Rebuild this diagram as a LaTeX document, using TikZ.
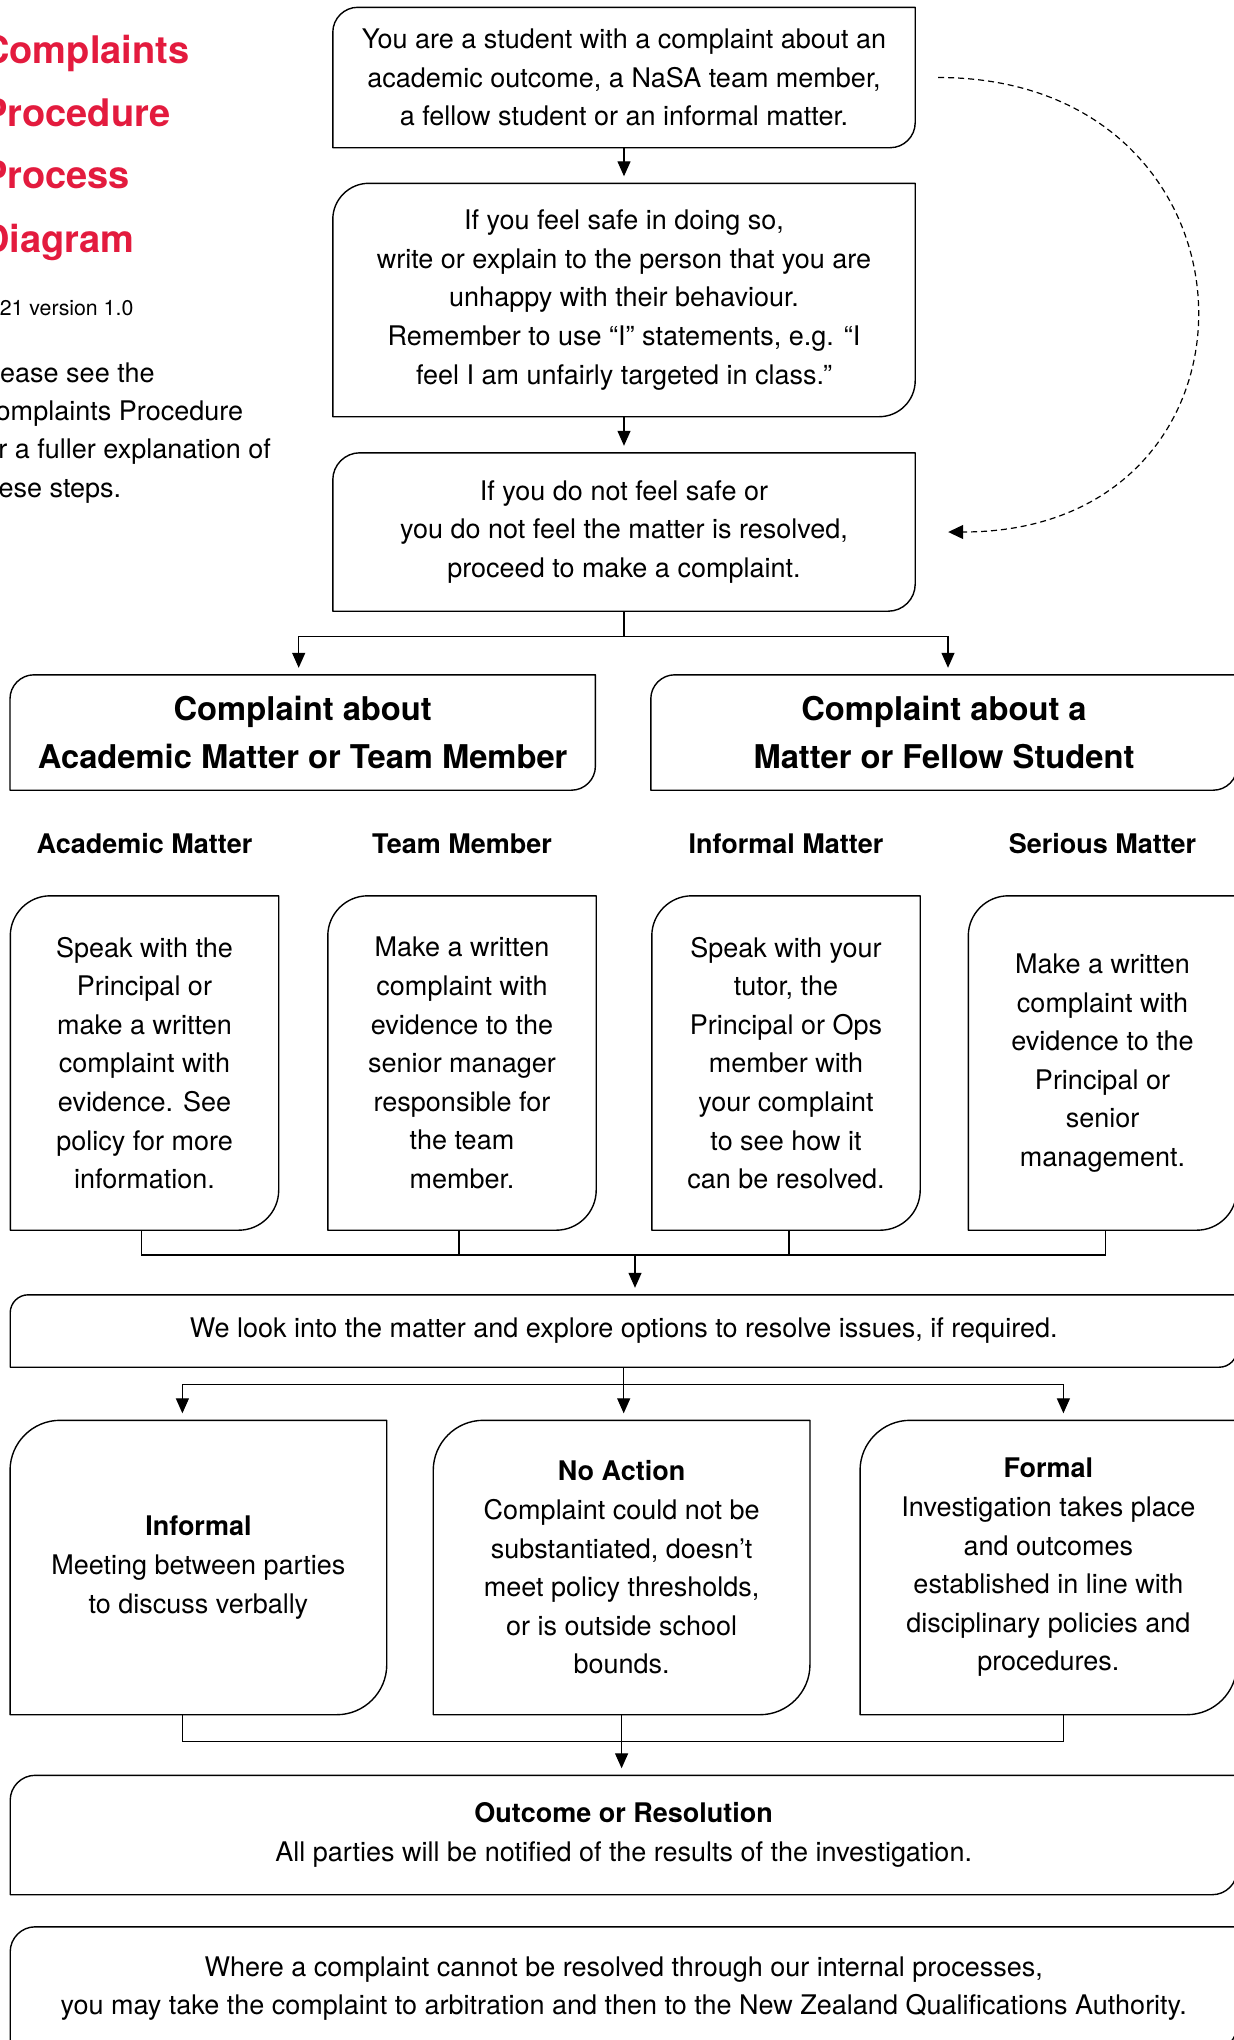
\documentclass[tikz,border=0pt]{standalone}
\usepackage{fontspec}
\setmainfont{TeX Gyre Heros}
\usetikzlibrary{arrows.meta,calc}
\definecolor{titlered}{RGB}{227,27,62}
\newcommand\DBox[2]{%
  \draw[boxline] (#1.south west) -- ([yshift=-#2]#1.north west)
    .. controls ([yshift=-0.45*#2]#1.north west) and ([xshift=0.45*#2]#1.north west) .. ([xshift=#2]#1.north west)
    -- (#1.north east) -- ([yshift=#2]#1.south east)
    .. controls ([yshift=0.45*#2]#1.south east) and ([xshift=-0.45*#2]#1.south east) .. ([xshift=-#2]#1.south east)
    -- cycle;}
\tikzset{
  boxtext/.style={inner sep=0pt, align=center, font=\fontsize{27}{38.6}\selectfont},
  headtext/.style={inner sep=0pt, align=center, font=\fontsize{32.7}{48.6}\selectfont\bfseries},
  subhead/.style={inner sep=0pt, font=\fontsize{27}{32}\selectfont\bfseries},
  titletxt/.style={inner sep=0pt, anchor=base west, text=titlered, font=\fontsize{38}{45}\selectfont\bfseries},
  vertxt/.style={inner sep=0pt, anchor=base west, font=\fontsize{21.3}{26}\selectfont},
  notetxt/.style={inner sep=0pt, anchor=base west, font=\fontsize{27}{32}\selectfont},
  boxline/.style={line width=1.4pt, draw=black, line join=round},
  conn/.style={line width=1.3pt, draw=black},
  arr/.style={conn, -{Triangle[length=15pt,width=13pt]}, shorten >=7pt},
  dasharr/.style={line width=1.2pt, dash pattern=on 6pt off 4pt, -{Triangle[length=15pt,width=14pt]}},
}
\begin{document}
\begin{tikzpicture}[x=1pt,y=-1pt]
\useasboundingbox (0,0) rectangle (1234,2040);

% left title and notes
\node[titletxt] (t1) at (-18,63) {Complaints};
\node[titletxt] (t2) at (-18,126) {Procedure};
\node[titletxt] (t3) at (-18,188) {Process};
\node[titletxt] (t4) at (-18,252) {Diagram};
\node[vertxt] (ver) at (-24,315) {2021 version 1.0};
\node[notetxt] (n1) at (-24,382) {Please see the};
\node[notetxt] (n2) at (-24,420) {Complaints Procedure};
\node[notetxt] (n3) at (-24,458) {for a fuller explanation of};
\node[notetxt] (n4) at (-24,497) {these steps.};

% top column
\node[boxtext, minimum width=582pt, minimum height=140pt] (b1) at (624,77.5)
  {You are a student with a complaint about an\\academic outcome, a NaSA team member,\\a fellow student or an informal matter.};
\node[boxtext, minimum width=582pt, minimum height=233pt] (b2) at (624,300)
  {If you feel safe in doing so,\\write or explain to the person that you are\\unhappy with their behaviour.\\Remember to use “I” statements, e.g. “I\\feel I am unfairly targeted in class.”};
\node[boxtext, minimum width=582pt, minimum height=158pt] (b3) at (624,532)
  {If you do not feel safe or\\you do not feel the matter is resolved,\\proceed to make a complaint.};
\DBox{b1}{25pt}
\DBox{b2}{36pt}
\DBox{b3}{27pt}
\draw[arr] (b1) -- (b2);
\draw[arr] (b2) -- (b3);

% dashed bypass
\coordinate (ds) at ([xshift=23pt]b1.east);
\coordinate (de) at ([xshift=33pt]b3.east);
\draw[dasharr] (ds) .. controls +(338,0) and +(338,0) .. (de);

% two categories
\node[headtext, minimum width=585pt, minimum height=115pt] (bA) at (302.7,732.5)
  {Complaint about\\Academic Matter or Team Member};
\node[headtext, minimum width=586pt, minimum height=115pt] (bB) at (944,732.5)
  {Complaint about a\\Matter or Fellow Student};
\DBox{bA}{24pt}
\DBox{bB}{24pt}
\coordinate (j1) at (624,636.5);
\draw[conn] (b3.south) -- (j1);
\draw[arr] (j1) -| ([xshift=-4pt]bA.north);
\draw[arr] (j1) -| ([xshift=4pt]bB.north);

% sub headings
\node[subhead] (hA) at (144.5,843.5) {Academic Matter};
\node[subhead] (hB) at (462,843.5) {Team Member};
\node[subhead] (hC) at (786,843.5) {Informal Matter};
\node[subhead] (hD) at (1102.5,843.5) {Serious Matter};

% four option boxes
\node[boxtext, minimum width=268pt, minimum height=334pt] (c1) at (144.5,1063)
  {Speak with the\\Principal or\\make a written\\complaint with\\evidence. See\\policy for more\\information.};
\node[boxtext, minimum width=268pt, minimum height=334pt] (c2) at (462,1063)
  {Make a written\\complaint with\\evidence to the\\senior manager\\responsible for\\the team\\member.};
\node[boxtext, minimum width=268pt, minimum height=334pt] (c3) at (786,1063)
  {Speak with your\\tutor, the\\Principal or Ops\\member with\\your complaint\\to see how it\\can be resolved.};
\node[boxtext, minimum width=268pt, minimum height=334pt] (c4) at (1102.5,1063)
  {Make a written\\complaint with\\evidence to the\\Principal or\\senior\\management.};
\DBox{c1}{40pt}
\DBox{c2}{40pt}
\DBox{c3}{40pt}
\DBox{c4}{40pt}
\coordinate (j2) at (635,1255);
\draw[conn] ([xshift=-3pt]c1.south) |- ([xshift=3pt]c4.south |- j2) -- ([xshift=3pt]c4.south);
\draw[conn] ([xshift=-3pt]c2.south) -- ([xshift=-3pt]c2.south |- j2);
\draw[conn] ([xshift=3pt]c3.south) -- ([xshift=3pt]c3.south |- j2);

% investigation
\node[boxtext, minimum width=1226.6pt, minimum height=72pt] (d) at (623.7,1331)
  {We look into the matter and explore options to resolve issues, if required.};
\DBox{d}{18pt}
\draw[arr] (j2) -- (j2 |- d.north);

% three outcomes
\node[boxtext, minimum width=376.3pt, minimum height=294pt] (e1) at (198.4,1567.5)
  {\textbf{Informal}\\Meeting between parties\\to discuss verbally};
\node[boxtext, minimum width=376.3pt, minimum height=294pt] (e2) at (621.6,1567.5)
  {\textbf{No Action}\\Complaint could not be\\substantiated, doesn’t\\meet policy thresholds,\\or is outside school\\bounds.};
\node[boxtext, minimum width=376.3pt, minimum height=294pt] (e3) at (1048.4,1567.5)
  {\textbf{Formal}\\Investigation takes place\\and outcomes\\established in line with\\disciplinary policies and\\procedures.};
\DBox{e1}{50pt}
\DBox{e2}{50pt}
\DBox{e3}{50pt}
\coordinate (j3) at (623.7,1384.5);
\draw[conn] (d.south) -- (j3);
\draw[arr] (j3) -| ([xshift=-16pt]e1.north);
\draw[arr] (j3) -- (j3 |- e2.north);
\draw[arr] (j3) -| ([xshift=15pt]e3.north);

% outcome
\node[boxtext, minimum width=1226.6pt, minimum height=119pt] (f) at (623.7,1835)
  {\textbf{Outcome or Resolution}\\All parties will be notified of the results of the investigation.};
\DBox{f}{25pt}
\coordinate (j4) at (623.7,1741.6);
\draw[conn] ([xshift=-16pt]e1.south) |- ([xshift=15pt]e3.south |- j4) -- ([xshift=15pt]e3.south);
\draw[arr] (e2.south) -- (e2.south |- f.north);

% final note
\node[boxtext, minimum width=1226.6pt, minimum height=123pt] (g) at (623.7,1988.5)
  {Where a complaint cannot be resolved through our internal processes,\\you may take the complaint to arbitration and then to the New Zealand Qualifications Authority.};
\DBox{g}{25pt}
\end{tikzpicture}
\end{document}
